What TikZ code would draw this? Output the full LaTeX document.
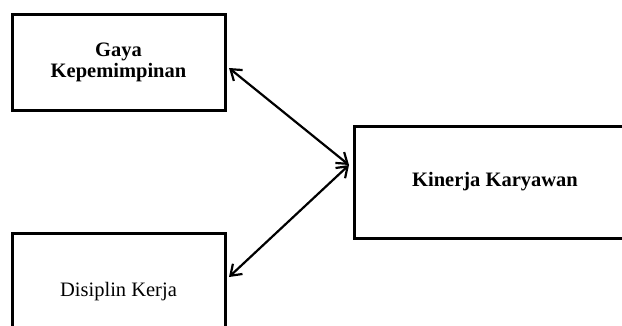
\documentclass[tikz,border=0pt]{standalone}
\usepackage{fontspec}
\setmainfont{Liberation Serif}
\usetikzlibrary{arrows.meta}
\begin{document}
\begin{tikzpicture}[x=1pt,y=-1pt,
  varbox/.style={draw=black,line width=3pt,fill=white,inner sep=0pt,
    align=center,font=\fontsize{20.5}{21}\selectfont},
  link/.style={line width=2.2pt,{Straight Barb[length=10pt,width=14pt,line width=2.2pt]}-{Straight Barb[length=10pt,width=14pt,line width=2.2pt]}}]
  \useasboundingbox (0,0) rectangle (622,325);
  \clip (0,0) rectangle (622,325);
  % variable boxes
  \node[varbox,minimum width=213pt,minimum height=96pt,font=\fontsize{20.5}{21}\selectfont\bfseries]
    (gaya) at (118.5,62) {Gaya\\Kepemimpinan};
  \node[varbox,minimum width=282pt,minimum height=112pt,font=\fontsize{20.5}{21}\selectfont\bfseries]
    (kinerja) at (495,182) {Kinerja Karyawan};
  \node[varbox,minimum width=213pt,minimum height=118pt]
    (disiplin) at (118.5,292) {Disiplin Kerja};
  % arrow end points beside the boxes
  \coordinate (pg) at (229,68);
  \coordinate (pk) at (349,165);
  \coordinate (pd) at (229,277);
  \draw[link] (pg) -- (pk);
  \draw[link] (pk) -- (pd);
\end{tikzpicture}
\end{document}
